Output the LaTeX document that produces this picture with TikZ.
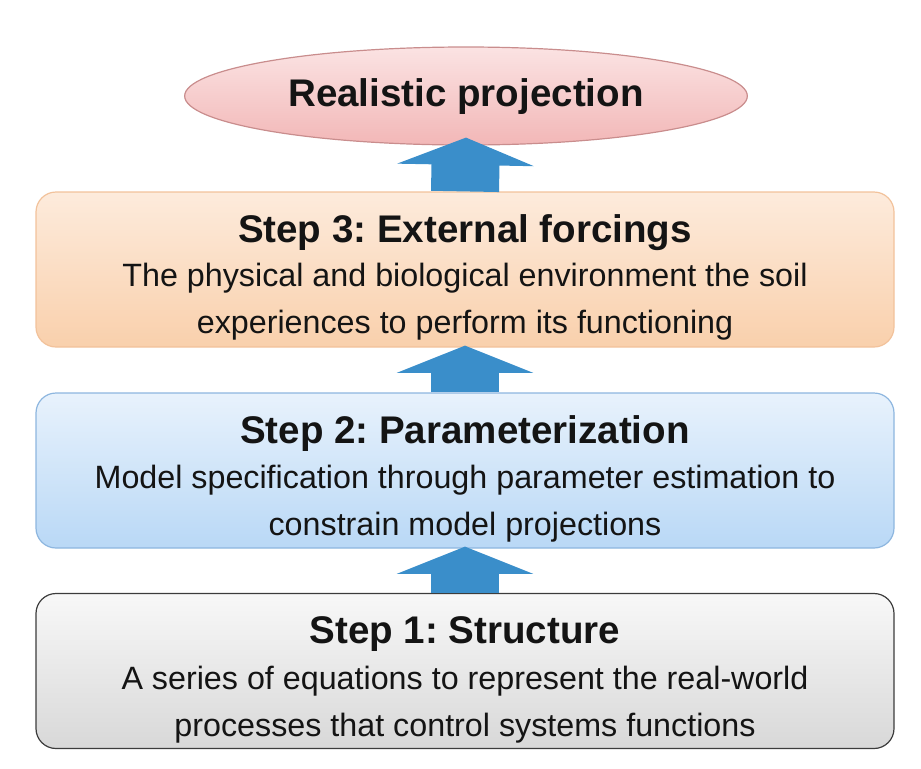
\documentclass[tikz,border=0pt]{standalone}
\usepackage{fontspec}
\setmainfont{Liberation Sans}
\usetikzlibrary{arrows.meta, positioning, shapes.geometric}
\frenchspacing

\definecolor{peachtop}{HTML}{FDEBDC}
\definecolor{peachbot}{HTML}{F9D0AC}
\definecolor{peachline}{HTML}{F2C29B}
\definecolor{skytop}{HTML}{E8F2FC}
\definecolor{skybot}{HTML}{B9D8F6}
\definecolor{skyline}{HTML}{8DB6DF}
\definecolor{greytop}{HTML}{F8F8F8}
\definecolor{greybot}{HTML}{D8D8D8}
\definecolor{greyline}{HTML}{3C3C3C}
\definecolor{pinktop}{HTML}{FBE3E3}
\definecolor{pinkbot}{HTML}{F2B7B7}
\definecolor{pinkline}{HTML}{C98D8D}
\definecolor{arrowblue}{HTML}{3A8ECA}
\definecolor{ink}{HTML}{141414}

\begin{document}
\begin{tikzpicture}[
        x=0.75pt, y=-0.75pt,
        stepbox/.style={rectangle, rounded corners=15pt, draw, line width=0.9pt, minimum width=643.5pt, minimum height=116.25pt},
        orangebox/.style={stepbox, draw=peachline, top color=peachtop, bottom color=peachbot},
        bluebox/.style={stepbox, draw=skyline, top color=skytop, bottom color=skybot},
        greybox/.style={stepbox, draw=greyline, top color=greytop, bottom color=greybot},
        goal/.style={ellipse, draw=pinkline, line width=0.9pt, top color=pinktop, bottom color=pinkbot, minimum width=422pt, minimum height=73.5pt},
        steptitle/.style={font=\bfseries\fontsize{28.9}{34}\selectfont, text=ink},
        steptext/.style={align=center, font=\fontsize{24.2}{35.25}\selectfont, text=ink},
        uparrow/.style={arrowblue, line width=51pt, -{Triangle[width=102pt, length=20.5pt]}}
    ]
        \useasboundingbox (0,0) rectangle (921,768);

        % Goal
        \node[goal] (proj) at (466, 96) {};
        \node[steptitle] (projtext) at (466, 97) {Realistic projection};

        % Step boxes
        \node[orangebox] (s3) at (465, 269.5) {};
        \node[bluebox] (s2) at (465, 470.5) {};
        \node[greybox] (s1) at (465, 671) {};

        % Step 3
        \node[steptitle] (s3title) at ([yshift=27.6pt]s3.center) {Step 3: External forcings};
        \node[steptext] (s3text) at ([yshift=-24.4pt]s3.center) {The physical and biological environment the soil\\experiences to perform its functioning};

        % Step 2
        \node[steptitle] (s2title) at ([yshift=27.6pt]s2.center) {Step 2: Parameterization};
        \node[steptext] (s2text) at ([yshift=-24.8pt]s2.center) {Model specification through parameter estimation to\\constrain model projections};

        % Step 1
        \node[steptitle] (s1title) at ([yshift=27.6pt]s1.center) {Step 1: Structure};
        \node[steptext] (s1text) at ([yshift=-25.2pt]s1.center) {A series of equations to represent the real-world\\processes that control systems functions};

        % Block arrows
        \draw[uparrow] (s3.north) -- ([yshift=6pt]proj.south);
        \draw[uparrow] (s2.north) -- ([yshift=1.5pt]s3.south);
        \draw[uparrow] (s1.north) -- ([yshift=1.5pt]s2.south);
    \end{tikzpicture}
\end{document}
